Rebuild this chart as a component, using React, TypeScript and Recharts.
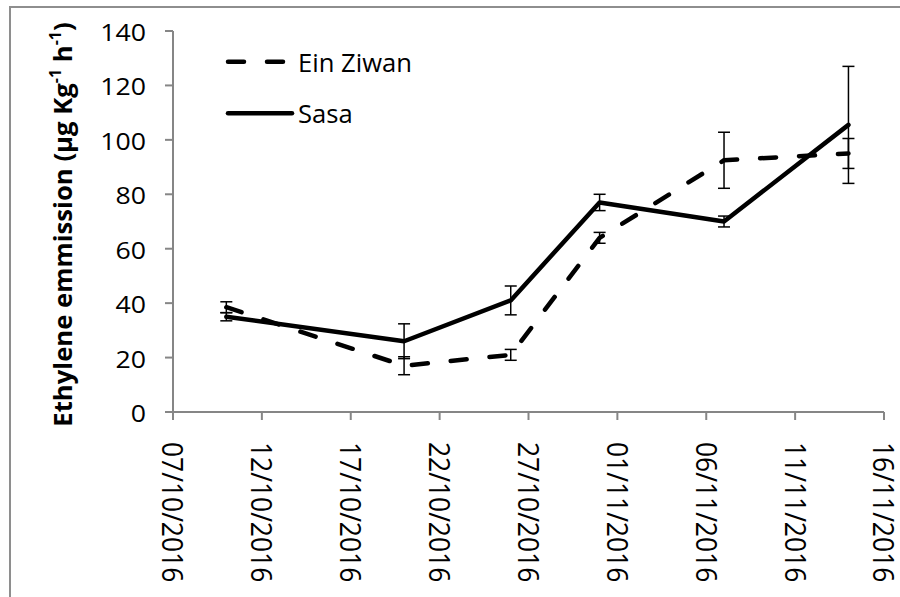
import React from 'react';
import { LineChart, Line, XAxis, YAxis, ErrorBar, Legend } from 'recharts';

// Sampling dates (ISO) and measured ethylene emission with standard errors
const sampleDates = ['2016-10-10', '2016-10-20', '2016-10-26', '2016-10-31', '2016-11-07', '2016-11-14'];
const einZiwan = [38.5, 17, 21, 64, 92.5, 95];
const einZiwanErr = [2, 3.3, 2, 2, 10.3, 5.5];
const sasa = [35, 26, 41, 77, 70, 105.5];
const sasaErr = [1.5, 6.4, 5.3, 3, 2, 21.5];

const xTickDates = [
  '2016-10-07', '2016-10-12', '2016-10-17', '2016-10-22', '2016-10-27',
  '2016-11-01', '2016-11-06', '2016-11-11', '2016-11-16',
];
const yTicks = [0, 20, 40, 60, 80, 100, 120, 140];

const seriesStyles = [
  { key: 'ez', name: 'Ein Ziwan', dash: '16 23', lineEnd: 286 },
  { key: 'sasa', name: 'Sasa', dash: undefined, lineEnd: 292 },
];

const toTime = (iso: string) => {
  const [y, m, d] = iso.split('-').map(Number);
  return Date.UTC(y, m - 1, d);
};
const pad = (n: number) => (n < 10 ? '0' + n : '' + n);
const fmtDate = (t: number) => {
  const d = new Date(t);
  return `${pad(d.getUTCDate())}/${pad(d.getUTCMonth() + 1)}/${d.getUTCFullYear()}`;
};

const data = sampleDates.map((iso, i) => ({
  t: toTime(iso),
  ez: einZiwan[i],
  ezErr: einZiwanErr[i],
  sasa: sasa[i],
  sasaErr: sasaErr[i],
}));
const xTicks = xTickDates.map(toTime);

const FONT = '"Open Sans", "Noto Sans", sans-serif';
const AXIS = '#868686';

const XTick = (props: any) => {
  const { x, y, payload } = props;
  return (
    <text
      transform={`translate(${x},${y + 22}) scale(1.28,1.15) rotate(90)`}
      textAnchor="start"
      dy="0.36em"
      fontFamily={FONT}
      fontSize={23}
      fill="#000"
    >
      {fmtDate(payload.value)}
    </text>
  );
};

const YTick = (props: any) => {
  const { x, y, payload } = props;
  return (
    <text
      transform={`translate(${x - 19},${y + 10}) scale(1.16,1)`}
      textAnchor="end"
      fontFamily={FONT}
      fontSize={23}
      fill="#000"
    >
      {payload.value}
    </text>
  );
};

const YTitle = () => (
  <text
    transform="translate(72,224.5) rotate(-90)"
    textAnchor="middle"
    fontFamily={FONT}
    fontWeight="bold"
    fontSize={25.7}
    fill="#000"
  >
    Ethylene emmission (µg Kg
    <tspan baselineShift="super" fontSize={16}>-1</tspan>
    {' h'}
    <tspan baselineShift="super" fontSize={16}>-1</tspan>)
  </text>
);

const renderLegend = () => (
  <svg width={900} height={150} style={{ display: 'block' }}>
    {seriesStyles.map((s, i) => {
      const cy = 61.7 + i * 51.6;
      return (
        <g key={s.key}>
          <line
            x1={228}
            x2={s.lineEnd}
            y1={cy}
            y2={cy}
            stroke="#000"
            strokeWidth={4.5}
            strokeLinecap="round"
            strokeDasharray={s.dash}
          />
          <text x={298} y={cy + 10} fontFamily={FONT} fontSize={25.6} fill="#000">
            {s.name}
          </text>
        </g>
      );
    })}
  </svg>
);

export default function App() {
  return (
    <div
      style={{
        position: 'absolute',
        left: 0,
        top: 0,
        width: 900,
        height: 597,
        overflow: 'hidden',
        background: '#fff',
      }}
    >
      <div
        style={{
          position: 'absolute',
          left: 9,
          top: 6,
          width: 900,
          height: 600,
          borderTop: `2px solid #8e8e8e`,
          borderLeft: `2px solid #8e8e8e`,
        }}
      />
      <div style={{ position: 'absolute', left: 0, top: 0 }}>
        <LineChart
          width={900}
          height={597}
          data={data}
          margin={{ top: 31, right: 16, left: 0, bottom: 0 }}
        >
          <XAxis
            dataKey="t"
            type="number"
            domain={[xTicks[0], xTicks[xTicks.length - 1]]}
            ticks={xTicks}
            interval={0}
            height={185}
            tickSize={8}
            tickMargin={0}
            axisLine={{ stroke: AXIS, strokeWidth: 2 }}
            tickLine={{ stroke: AXIS, strokeWidth: 2 }}
            tick={<XTick />}
          />
          <YAxis
            type="number"
            domain={[0, 140]}
            ticks={yTicks}
            interval={0}
            width={173}
            tickSize={8}
            tickMargin={0}
            axisLine={{ stroke: AXIS, strokeWidth: 2 }}
            tickLine={{ stroke: AXIS, strokeWidth: 2 }}
            tick={<YTick />}
            label={<YTitle />}
          />
          <Legend
            layout="horizontal"
            verticalAlign="middle"
            align="center"
            content={renderLegend}
            wrapperStyle={{ left: 0, top: 0, width: 900, height: 150, pointerEvents: 'none' }}
          />
          <Line
            dataKey="ez"
            name="Ein Ziwan"
            type="linear"
            stroke="#000"
            strokeWidth={4.5}
            strokeDasharray="16 23"
            strokeLinecap="round"
            strokeLinejoin="round"
            dot={false}
            activeDot={false}
            isAnimationActive={false}
          >
            <ErrorBar dataKey="ezErr" direction="y" width={6} stroke="#000" strokeWidth={1.5} isAnimationActive={false} />
          </Line>
          <Line
            dataKey="sasa"
            name="Sasa"
            type="linear"
            stroke="#000"
            strokeWidth={4.5}
            strokeLinecap="round"
            strokeLinejoin="round"
            dot={false}
            activeDot={false}
            isAnimationActive={false}
          >
            <ErrorBar dataKey="sasaErr" direction="y" width={6} stroke="#000" strokeWidth={1.5} isAnimationActive={false} />
          </Line>
        </LineChart>
      </div>
    </div>
  );
}
